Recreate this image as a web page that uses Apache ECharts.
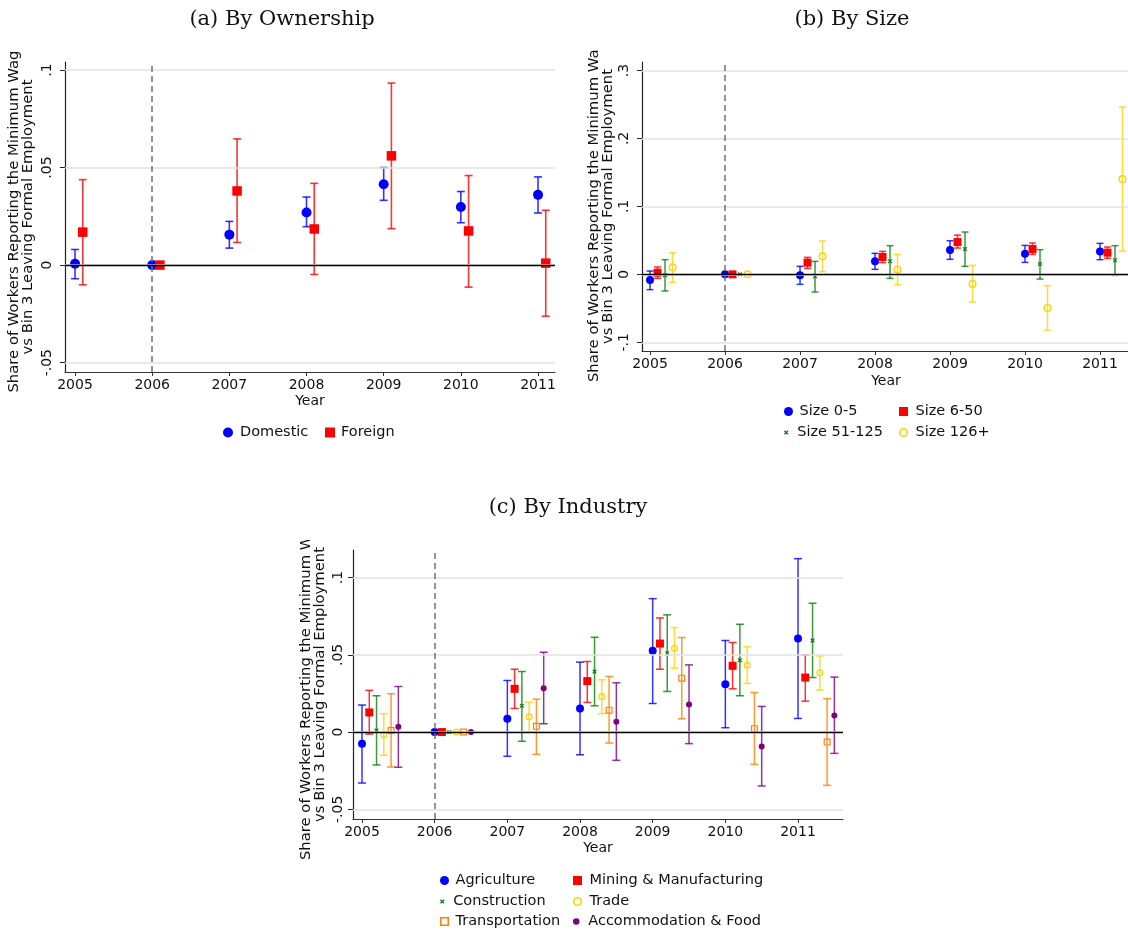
<!DOCTYPE html>
<html><head><meta charset="utf-8">
<script src="https://cdn.jsdelivr.net/npm/echarts@6/dist/echarts.min.js"></script>
<style>html,body{margin:0;padding:0;background:#fff}#c{width:1128px;height:933px}</style>
</head><body><div id="c"></div>
<script>
// ---------------- DATA ----------------
const years = [2005, 2006, 2007, 2008, 2009, 2010, 2011];
const refYear = 2006;
const yTicksA = [-0.05, 0, 0.05, 0.1];
const yTicksB = [-0.1, 0, 0.1, 0.2, 0.3];
const yTicksC = [-0.05, 0, 0.05, 0.1];

// (a) By Ownership
const domesticEst = [0.0007, 0, 0.0156, 0.0270, 0.0414, 0.0298, 0.0360];
const domesticLo  = [-0.0070, null, 0.0087, 0.0197, 0.0332, 0.0217, 0.0267];
const domesticHi  = [0.0080, null, 0.0224, 0.0349, 0.0500, 0.0377, 0.0452];
const foreignEst  = [0.0169, 0, 0.0380, 0.0185, 0.0560, 0.0175, 0.0010];
const foreignLo   = [-0.0101, null, 0.0116, -0.0048, 0.0187, -0.0113, -0.0262];
const foreignHi   = [0.0438, null, 0.0647, 0.0419, 0.0933, 0.0459, 0.0281];

// (b) By Size
const size05Est  = [-0.0083, 0, -0.0015, 0.0191, 0.0358, 0.0304, 0.0338];
const size05Lo   = [-0.0225, null, -0.0147, 0.0074, 0.0221, 0.0176, 0.0216];
const size05Hi   = [0.0049, null, 0.0118, 0.0309, 0.0495, 0.0426, 0.0456];
const size650Est = [0.0025, 0, 0.0172, 0.0255, 0.0475, 0.0373, 0.0319];
const size650Lo  = [-0.0059, null, 0.0088, 0.0172, 0.0387, 0.0294, 0.0235];
const size650Hi  = [0.0108, null, 0.0250, 0.0338, 0.0578, 0.0461, 0.0402];
const size51Est  = [-0.0015, 0, -0.0029, 0.0191, 0.0373, 0.0152, 0.0206];
const size51Lo   = [-0.0245, null, -0.0260, -0.0059, 0.0118, -0.0069, -0.0015];
const size51Hi   = [0.0216, null, 0.0191, 0.0422, 0.0623, 0.0363, 0.0422];
const size126Est = [0.0103, 0, 0.0265, 0.0069, -0.0137, -0.0495, 0.1402];
const size126Lo  = [-0.0118, null, 0.0039, -0.0152, -0.0407, -0.0819, 0.0343];
const size126Hi  = [0.0319, null, 0.0490, 0.0294, 0.0132, -0.0167, 0.2461];

// (c) By Industry
const agriEst   = [-0.0075, 0, 0.0086, 0.0153, 0.0526, 0.0310, 0.0606];
const agriLo    = [-0.0330, null, -0.0157, -0.0147, 0.0185, 0.0028, 0.0088];
const agriHi    = [0.0175, null, 0.0334, 0.0453, 0.0864, 0.0593, 0.1123];
const miningEst = [0.0127, 0, 0.0280, 0.0330, 0.0573, 0.0429, 0.0353];
const miningLo  = [-0.0013, null, 0.0153, 0.0192, 0.0407, 0.0280, 0.0200];
const miningHi  = [0.0270, null, 0.0407, 0.0457, 0.0739, 0.0580, 0.0500];
const constrEst = [0.0010, 0, 0.0170, 0.0392, 0.0511, 0.0465, 0.0593];
const constrLo  = [-0.0213, null, -0.0060, 0.0170, 0.0263, 0.0235, 0.0353];
const constrHi  = [0.0235, null, 0.0392, 0.0614, 0.0759, 0.0698, 0.0834];
const tradeEst  = [-0.0017, 0, 0.0099, 0.0228, 0.0543, 0.0433, 0.0384];
const tradeLo   = [-0.0150, null, 0.0000, 0.0119, 0.0414, 0.0315, 0.0272];
const tradeHi   = [0.0119, null, 0.0194, 0.0338, 0.0677, 0.0552, 0.0493];
const transEst  = [0.0010, 0, 0.0037, 0.0142, 0.0349, 0.0022, -0.0065];
const transLo   = [-0.0226, null, -0.0144, -0.0071, 0.0086, -0.0209, -0.0345];
const transHi   = [0.0248, null, 0.0213, 0.0360, 0.0612, 0.0256, 0.0216];
const accomEst  = [0.0034, 0, 0.0284, 0.0067, 0.0179, -0.0093, 0.0108];
const accomLo   = [-0.0228, null, 0.0054, -0.0183, -0.0075, -0.0349, -0.0138];
const accomHi   = [0.0295, null, 0.0517, 0.0319, 0.0435, 0.0166, 0.0356];

// ---------------- STYLE / LAYOUT ----------------
const SANS = 'DejaVu Sans';
const SERIF = 'DejaVu Serif';
const TXT = '#111';
const BLUE = '#0000ff', RED = '#ff0000', GREEN = '#0a800a', GOLD = '#ffd200', ORANGE = '#ff8000', PURPLE = '#800080';
const CROSS = 'path://M0,2L2,0L5,3L8,0L10,2L7,5L10,8L8,10L5,7L2,10L0,8L3,5Z';
const RING = 'path://M5,0A5,5 0 1,1 5,10A5,5 0 1,1 5,0ZM5,1.7A3.3,3.3 0 1,0 5,8.3A3.3,3.3 0 1,0 5,1.7Z';
const SQRING = 'path://M0,0H10V10H0ZM1.7,1.7V8.3H8.3V1.7Z';
const SQUARE = 'path://M0,0H10V10H0Z';

const panels = [
  { title: '(a) By Ownership', tx: 282, ty: 20,
    grid: { left: 65, top: 62, width: 490, height: 310 },
    xmin: 2004.870, xmax: 2011.220, ymin: -0.0548, ymax: 0.1041, yTicks: yTicksA,
    labelMargin: 11, nameGap: 30, yearGap: 22, cap: 4, lw: 1.6,
    groups: [
      { name: 'Domestic', est: domesticEst, lo: domesticLo, hi: domesticHi, color: BLUE, symbol: 'circle', size: 10, off: 0,
        leg: { left: 223, top: 425, w: 14, h: 10 } },
      { name: 'Foreign', est: foreignEst, lo: foreignLo, hi: foreignHi, color: RED, symbol: SQUARE, size: 9.5, off: 0.1,
        leg: { left: 325, top: 425, w: 12, h: 10 } }
    ] },
  { title: '(b) By Size', tx: 852, ty: 20,
    grid: { left: 642, top: 62, width: 488, height: 289 },
    xmin: 2004.893, xmax: 2011.40, ymin: -0.1128, ymax: 0.3125, yTicks: yTicksB,
    labelMargin: 11, nameGap: 27, yearGap: 23, cap: 3.5, lw: 1.5,
    groups: [
      { name: 'Size 0-5', est: size05Est, lo: size05Lo, hi: size05Hi, color: BLUE, symbol: 'circle', size: 8, off: 0,
        leg: { left: 784, top: 404, w: 12, h: 9 } },
      { name: 'Size 6-50', est: size650Est, lo: size650Lo, hi: size650Hi, color: RED, symbol: SQUARE, size: 8, off: 0.1,
        leg: { left: 899, top: 404, w: 14, h: 9 } },
      { name: 'Size 51-125', est: size51Est, lo: size51Lo, hi: size51Hi, color: GREEN, symbol: CROSS, size: 4.5, off: 0.2,
        leg: { left: 784, top: 425, w: 12, h: 4.5 } },
      { name: 'Size 126+', est: size126Est, lo: size126Lo, hi: size126Hi, color: GOLD, symbol: RING, size: 8, off: 0.3,
        leg: { left: 899, top: 425, w: 14, h: 9 } }
    ] },
  { title: '(c) By Industry', tx: 568, ty: 508,
    grid: { left: 353, top: 550, width: 490, height: 269 },
    xmin: 2004.876, xmax: 2011.619, ymin: -0.0563, ymax: 0.1179, yTicks: yTicksC,
    labelMargin: 8, nameGap: 26, yearGap: 22, cap: 4, lw: 1.5,
    groups: [
      { name: 'Agriculture', est: agriEst, lo: agriLo, hi: agriHi, color: BLUE, symbol: 'circle', size: 8, off: 0,
        leg: { left: 440, top: 873, w: 12, h: 9 } },
      { name: 'Mining & Manufacturing', est: miningEst, lo: miningLo, hi: miningHi, color: RED, symbol: SQUARE, size: 8, off: 0.1,
        leg: { left: 573, top: 873, w: 14, h: 9 } },
      { name: 'Construction', est: constrEst, lo: constrLo, hi: constrHi, color: GREEN, symbol: CROSS, size: 4.5, off: 0.2,
        leg: { left: 440, top: 894, w: 12, h: 4.5 } },
      { name: 'Trade', est: tradeEst, lo: tradeLo, hi: tradeHi, color: GOLD, symbol: RING, size: 7, off: 0.3,
        leg: { left: 573, top: 894, w: 14, h: 9 } },
      { name: 'Transportation', est: transEst, lo: transLo, hi: transHi, color: ORANGE, symbol: SQRING, size: 7, off: 0.4,
        leg: { left: 440, top: 914, w: 12, h: 9 } },
      { name: 'Accommodation & Food', est: accomEst, lo: accomLo, hi: accomHi, color: PURPLE, symbol: 'circle', size: 6, off: 0.5,
        leg: { left: 573, top: 914, w: 14, h: 6.5 } }
    ] }
];

const yTitle = 'Share of Workers Reporting the Minimum Wage\nvs Bin 3 Leaving Formal Employment';
function fmtY(v) {
  if (Math.abs(v) < 1e-9) return '0';
  return String(+v.toFixed(4)).replace('0.', '.');
}

const grids = [], xAxes = [], yAxes = [], series = [], legends = [], graphics = [];

panels.forEach((p, k) => {
  grids.push(Object.assign({ outerBoundsMode: 'none', containLabel: false }, p.grid));
  xAxes.push({
    gridIndex: k, type: 'value', min: p.xmin, max: p.xmax,
    axisLine: { show: true, onZero: false, lineStyle: { color: '#333', width: 1.2 } },
    axisTick: { show: true, length: 4, customValues: years, lineStyle: { color: '#333' } },
    axisLabel: { customValues: years, margin: 6, formatter: v => String(Math.round(v)), fontSize: 14, fontFamily: SANS, color: TXT },
    splitLine: { show: false },
    name: 'Year', nameLocation: 'middle', nameGap: p.yearGap, nameMoveOverlap: false,
    nameTextStyle: { fontSize: 14, fontFamily: SANS, color: TXT }
  });
  yAxes.push({
    gridIndex: k, type: 'value', min: p.ymin, max: p.ymax,
    axisLine: { show: true, onZero: false, lineStyle: { color: '#222', width: 1.2 } },
    axisTick: { show: true, length: 5, customValues: p.yTicks, lineStyle: { color: '#222' } },
    axisLabel: { customValues: p.yTicks, rotate: 90, margin: p.labelMargin, formatter: fmtY, fontSize: 14, fontFamily: SANS, color: TXT },
    splitLine: { show: false },
    name: yTitle, nameLocation: 'middle', nameRotate: 90, nameGap: p.nameGap, nameMoveOverlap: false,
    nameTextStyle: { fontSize: 14.8, lineHeight: 14, fontFamily: SANS, color: TXT }
  });
  // gridlines
  series.push({
    type: 'scatter', name: 'grid' + k, xAxisIndex: k, yAxisIndex: k, data: [], z: 1, silent: true,
    markLine: { silent: true, symbol: ['none', 'none'], label: { show: false }, animation: false,
      lineStyle: { color: '#e2e2e2', width: 1.5, type: 'solid' },
      data: p.yTicks.map(v => ({ yAxis: v })) }
  });
  // reference lines: y = 0 and x = refYear
  series.push({
    type: 'scatter', name: 'ref' + k, xAxisIndex: k, yAxisIndex: k, data: [], z: 2, silent: true,
    markLine: { silent: true, symbol: ['none', 'none'], label: { show: false }, animation: false,
      data: [
        { yAxis: 0, lineStyle: { color: '#000', width: 1.3, type: 'solid' } },
        { xAxis: refYear, lineStyle: { color: '#707070', width: 1.5, type: [6, 4] } }
      ] }
  });
  p.groups.forEach(g => {
    const ci = [];
    years.forEach((y, i) => { if (g.lo[i] !== null) ci.push([y + g.off, g.lo[i], g.hi[i]]); });
    const cap = p.cap, lw = p.lw, col = g.color;
    series.push({
      type: 'custom', name: g.name + ' CI', xAxisIndex: k, yAxisIndex: k, data: ci, z: 3, silent: true,
      encode: { x: 0, y: [1, 2] },
      renderItem: function (params, api) {
        const x = api.value(0);
        const a = api.coord([x, api.value(1)]), b = api.coord([x, api.value(2)]);
        const st = () => ({ stroke: col, lineWidth: lw, opacity: 0.8 });
        return { type: 'group', children: [
          { type: 'line', shape: { x1: a[0], y1: a[1], x2: b[0], y2: b[1] }, style: st() },
          { type: 'line', shape: { x1: a[0] - cap, y1: a[1], x2: a[0] + cap, y2: a[1] }, style: st() },
          { type: 'line', shape: { x1: b[0] - cap, y1: b[1], x2: b[0] + cap, y2: b[1] }, style: st() }
        ] };
      }
    });
    series.push({
      type: 'scatter', name: g.name, xAxisIndex: k, yAxisIndex: k, z: 4,
      symbol: g.symbol, symbolSize: g.size, itemStyle: { color: g.color, opacity: 1 },
      data: years.map((y, i) => [y + g.off, g.est[i]])
    });
    legends.push({
      data: [{ name: g.name, icon: g.symbol }], left: g.leg.left, top: g.leg.top,
      itemWidth: g.leg.w, itemHeight: g.leg.h, symbolKeepAspect: true, selectedMode: false,
      padding: 0, itemGap: 0,
      textStyle: { fontSize: 14.5, fontFamily: SANS, color: TXT }
    });
  });
  graphics.push({ type: 'text', x: p.tx, y: p.ty, z: 120,
    style: { text: p.title, textAlign: 'center', textVerticalAlign: 'middle', fontSize: 21, fontFamily: SERIF, fill: '#111' } });
});

// white masks where the long axis titles run past the top of each sub-graph
graphics.push({ type: 'rect', z: 100, shape: { x: 0, y: 0, width: 60, height: 50 }, style: { fill: '#fff' } });
graphics.push({ type: 'rect', z: 100, shape: { x: 575, y: 0, width: 62, height: 50 }, style: { fill: '#fff' } });
graphics.push({ type: 'rect', z: 100, shape: { x: 285, y: 470, width: 62, height: 70 }, style: { fill: '#fff' } });

const chart = echarts.init(document.getElementById('c'), null, { renderer: 'canvas' });
chart.setOption({
  animation: false,
  backgroundColor: '#fff',
  grid: grids, xAxis: xAxes, yAxis: yAxes, series: series, legend: legends,
  graphic: { elements: graphics }
});
</script></body></html>
